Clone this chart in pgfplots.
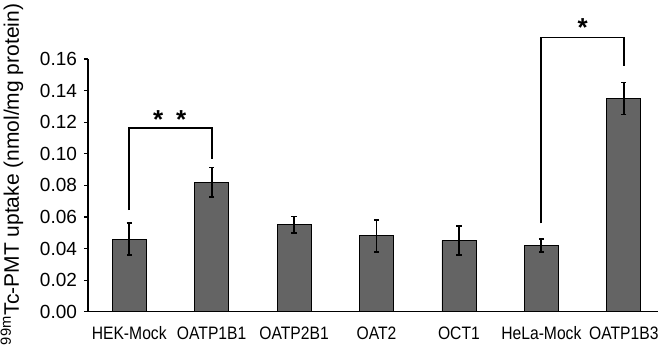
\documentclass[border=0pt]{standalone}
\usepackage{graphicx}
\usepackage{pgfplots}
\pgfplotsset{compat=1.18}
\usepackage{fontspec}
\setmainfont{Liberation Sans}
\definecolor{barfill}{RGB}{100,100,100}
\newcommand{\xl}[1]{\scalebox{0.87}[1]{#1}}
\begin{document}
\begin{tikzpicture}
\begin{axis}[
  scale only axis,
  width=288.5pt, height=126.35pt,
  xmin=-0.5, xmax=6.5,
  ymin=0, ymax=0.16,
  axis lines=left,
  axis line style={-, line width=0.6pt},
  clip=false,
  ytick={0,0.02,0.04,0.06,0.08,0.10,0.12,0.14,0.16},
  yticklabel style={font=\fontsize{9.5}{11}\selectfont, /pgf/number format/fixed, /pgf/number format/fixed zerofill, /pgf/number format/precision=2, /pgf/number format/assume math mode=true},
  tick align=outside,
  major tick length=2pt,
  tick style={line width=0.6pt, black},
  xtick={0,1,2,3,4,5,6},
  xticklabels={\xl{HEK-Mock},\xl{OATP1B1},\xl{OATP2B1},\xl{OAT2},\xl{OCT1},\xl{HeLa-Mock},\xl{OATP1B3}},
  xticklabel style={font=\fontsize{9}{11}\selectfont, yshift=-2pt},
  x tick style={draw=none},
  extra x ticks={0.5,1.5,2.5,3.5,4.5,5.5},
  extra x tick labels={},
  extra x tick style={tick align=inside, major tick length=3pt, tick style={draw=black, line width=0.6pt}},
  ylabel={\textsuperscript{99m}Tc-PMT uptake (nmol/mg protein)},
  ylabel style={at={(axis description cs:-0.132,0.543)}, anchor=center, font=\fontsize{10.5}{12}\selectfont},
]
\addplot[ybar, bar width=17pt, fill=barfill, draw=black, line width=0.4pt,
  error bars/.cd, y dir=both, y explicit,
  error bar style={line width=0.9pt, black},
  error mark options={rotate=90, mark size=1.3pt, line width=0.9pt, black}]
coordinates {
(0,0.046) +- (0,0.0102)
(1,0.082) +- (0,0.0093)
(2,0.055) +- (0,0.0053)
(3,0.048) +- (0,0.0100)
(4,0.045) +- (0,0.0091)
(5,0.042) +- (0,0.0042)
(6,0.135) +- (0,0.0101)
};
\draw[line width=0.9pt] (axis cs:0,0.0643) -- (axis cs:0,0.1162) -- (axis cs:1,0.1162) -- (axis cs:1,0.097);
\draw[line width=0.9pt] (axis cs:5,0.056) -- (axis cs:5,0.1736) -- (axis cs:6,0.1736) -- (axis cs:6,0.1553);
\node[font=\fontsize{13}{15}\selectfont\bfseries] at (axis cs:0.35,0.1218) {*};
\node[font=\fontsize{13}{15}\selectfont\bfseries] at (axis cs:0.63,0.1218) {*};
\node[font=\fontsize{13}{15}\selectfont\bfseries] at (axis cs:5.5,0.1798) {*};
\end{axis}
\pgfresetboundingbox
\path[use as bounding box] (-44pt,-23.15pt) rectangle (285pt,155.85pt);
\end{tikzpicture}
\end{document}
